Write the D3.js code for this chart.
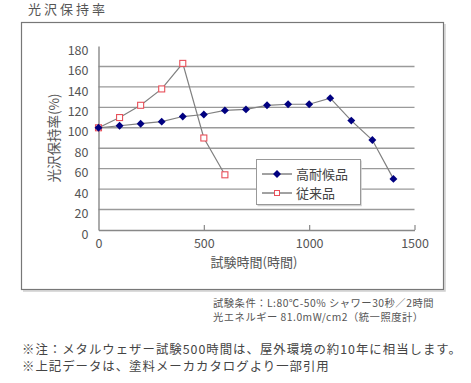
<!DOCTYPE html>
<html>
<head>
<meta charset="utf-8">
<script src="https://cdn.jsdelivr.net/npm/d3@7"></script>
<style>
  body { margin: 0; background: #fff; }
  svg text { font-family: "Noto Sans CJK JP", "Noto Sans", sans-serif; fill: #555; }
</style>
</head>
<body>
<div id="chart"></div>
<script>
// 試験時間(時間)
var hoursA = [0, 100, 200, 300, 400, 500, 600, 700, 800, 900, 1000, 1100, 1200, 1300, 1400];
var highWeather = [100, 102, 104, 106, 111, 113, 117, 118, 122, 123, 123, 129, 107, 88, 50];
var hoursB = [0, 100, 200, 300, 400, 500, 600];
var conventional = [100, 110, 122, 138, 163, 90, 54];
var seriesNames = ['高耐候品', '従来品'];
var yTicks = [0, 20, 40, 60, 80, 100, 120, 140, 160, 180];
var xTicks = [0, 500, 1000, 1500];
var condLines = ['試験条件：L:80℃-50% シャワー30秒／2時間', '光エネルギー 81.0mW/cm2（統一照度計）'];
var noteLines = ['※注：メタルウェザー試験500時間は、屋外環境の約10年に相当します。', '※上記データは、塗料メーカカタログより一部引用'];

var width = 471, height = 383;
var svg = d3.select('#chart').append('svg')
    .attr('width', width)
    .attr('height', height);

var x = d3.scaleLinear().domain([0, 1500]).range([98.5, 414.5]);
var y = d3.scaleLinear().domain([0, 180]).range([230, 46]);

// title
svg.append('text')
    .attr('x', 28).attr('y', 14)
    .attr('font-size', '13px')
    .style('letter-spacing', '3px')
    .text('光沢保持率');

// frame + shadow
svg.append('path')
    .attr('d', 'M445,24V291H23')
    .style('fill', 'none').style('stroke', '#d0d0d0').style('stroke-width', 1.5);
svg.append('rect')
    .attr('x', 21.5).attr('y', 22.5).attr('width', 422).attr('height', 267)
    .style('fill', 'none').style('stroke', '#777').style('stroke-width', 1.2);

// gridlines
svg.append('g').selectAll('line')
    .data(yTicks.filter(function (d) { return d > 0 && d < 180; }))
    .enter().append('line')
    .attr('x1', x(0)).attr('x2', x(1500))
    .attr('y1', function (d) { return y(d); })
    .attr('y2', function (d) { return y(d); })
    .style('stroke', '#9a9a9a').style('stroke-width', 1.4);

// axes
var yAxis = svg.append('g').attr('transform', 'translate(' + x(0) + ',0)')
    .call(d3.axisLeft(y).tickValues(yTicks).tickSize(0).tickPadding(10).tickFormat(d3.format('d')));
yAxis.select('.domain').style('stroke', '#888').style('stroke-width', 1.4);
yAxis.selectAll('text').attr('font-size', '12.5px').attr('dy', '0.65em').style('fill', '#555');

var xAxis = svg.append('g').attr('transform', 'translate(0,' + y(0) + ')')
    .call(d3.axisBottom(x).tickValues(xTicks).tickSize(0).tickPadding(9).tickFormat(d3.format('d')));
xAxis.select('.domain').style('stroke', '#888').style('stroke-width', 1.4);
xAxis.selectAll('text').attr('font-size', '12.5px').style('fill', '#555');
xAxis.selectAll('.tick').filter(function (d) { return d > 0; })
    .append('line').attr('y1', 0).attr('y2', -5)
    .style('stroke', '#888').style('stroke-width', 1.2);

// axis titles
svg.append('text')
    .attr('transform', 'translate(59,' + 138 + ') rotate(-90)')
    .attr('text-anchor', 'middle')
    .attr('font-size', '13.5px')
    .text('光沢保持率(%)');
svg.append('text')
    .attr('x', 254).attr('y', 267)
    .attr('text-anchor', 'middle')
    .attr('font-size', '13px')
    .text('試験時間(時間)');

var line = d3.line()
    .x(function (d) { return x(d[0]); })
    .y(function (d) { return y(d[1]); });

var dataA = d3.zip(hoursA, highWeather);
var dataB = d3.zip(hoursB, conventional);

svg.append('path').datum(dataB).attr('d', line)
    .style('fill', 'none').style('stroke', '#808080').style('stroke-width', 1.2);
svg.append('path').datum(dataA).attr('d', line)
    .style('fill', 'none').style('stroke', '#808080').style('stroke-width', 1.2);

var diamond = d3.symbol().type(d3.symbolDiamond2).size(40);
svg.append('g').selectAll('rect')
    .data(dataB).enter().append('rect')
    .attr('x', function (d) { return x(d[0]) - 3; })
    .attr('y', function (d) { return y(d[1]) - 3; })
    .attr('width', 6).attr('height', 6)
    .style('fill', '#fff').style('stroke', '#e8505a').style('stroke-width', 1.1);
svg.append('g').selectAll('path')
    .data(dataA).enter().append('path')
    .attr('d', diamond)
    .attr('transform', function (d) { return 'translate(' + x(d[0]) + ',' + y(d[1]) + ')'; })
    .style('fill', '#000080');

// legend
var lg = svg.append('g').attr('transform', 'translate(256,159)');
lg.append('path').attr('d', 'M105,1.5V46.5H1.5')
    .style('fill', 'none').style('stroke', '#d0d0d0').style('stroke-width', 1.5);
lg.append('rect').attr('x', 0.5).attr('y', 0.5).attr('width', 104).attr('height', 45)
    .style('fill', '#fff').style('stroke', '#999').style('stroke-width', 1);
seriesNames.forEach(function (name, i) {
    var cy = 15 + i * 19;
    lg.append('line').attr('x1', 6).attr('x2', 36).attr('y1', cy).attr('y2', cy)
        .style('stroke', '#444').style('stroke-width', 1);
    if (i === 0) {
        lg.append('path').attr('d', diamond).attr('transform', 'translate(21,' + cy + ')')
            .style('fill', '#000080');
    } else {
        lg.append('rect').attr('x', 18.5).attr('y', cy - 2.5).attr('width', 5).attr('height', 5)
            .style('fill', '#fff').style('stroke', '#e8505a');
    }
    lg.append('text').attr('x', 40).attr('y', cy + 5)
        .attr('font-size', '13px').style('fill', '#444')
        .text(name);
});

// notes
svg.append('g').selectAll('text')
    .data(condLines).enter().append('text')
    .attr('x', 213)
    .attr('y', function (d, i) { return 307 + i * 13.5; })
    .attr('font-size', '10.3px')
    .attr('letter-spacing', '0.5px')
    .style('fill', '#555')
    .text(function (d) { return d; });

svg.append('g').selectAll('text')
    .data(noteLines).enter().append('text')
    .attr('x', 22)
    .attr('y', function (d, i) { return 354 + i * 16.5; })
    .attr('font-size', '12.4px')
    .attr('letter-spacing', '1px')
    .style('fill', '#444')
    .text(function (d) { return d; });
</script>
</body>
</html>
